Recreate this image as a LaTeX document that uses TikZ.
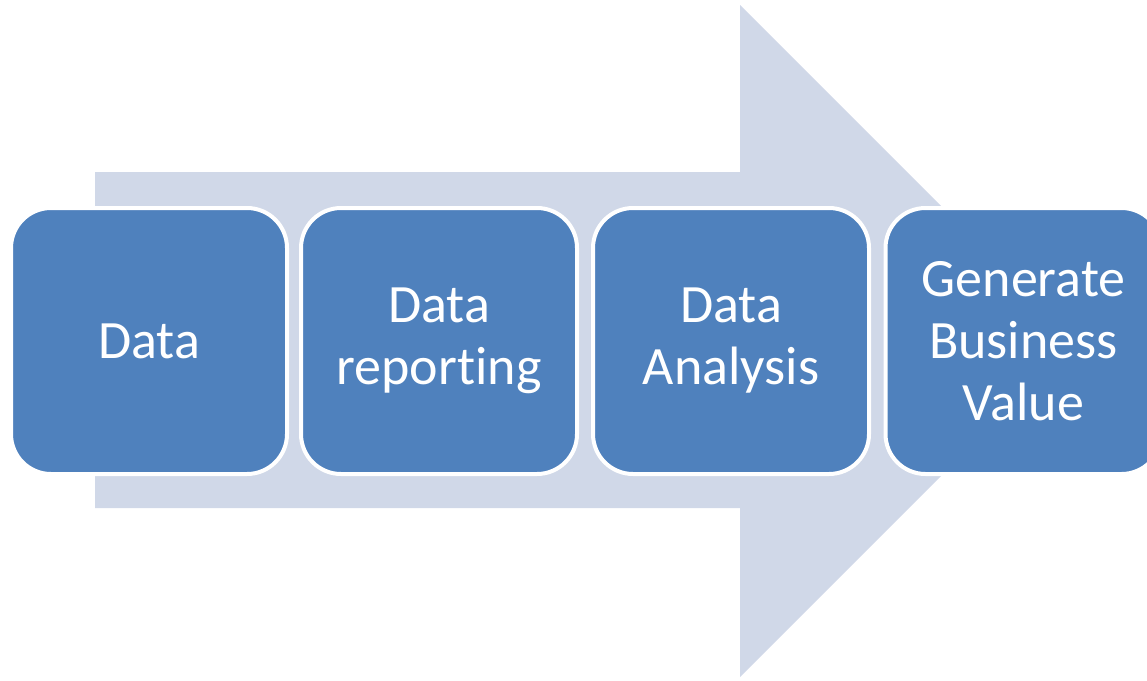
\documentclass[tikz,border=0pt]{standalone}
\usepackage{fontspec}
\setmainfont{Carlito}[Ligatures=NoCommon]
\definecolor{boxblue}{HTML}{4F81BD}
\definecolor{arrowgray}{HTML}{D0D8E8}
\begin{document}
\begin{tikzpicture}[x=1pt,y=-1pt,
  stagebox/.style={draw=white, line width=4pt, fill=boxblue, rounded corners=40pt,
    minimum width=276pt, minimum height=266pt, inner sep=0pt, align=center,
    text=white, font=\fontsize{54}{62}\selectfont}]
\useasboundingbox (0,0) rectangle (1147,680);
\fill[arrowgray] (95,172) -- (740,172) -- (740,5) -- (1076,341) -- (740,677) -- (740,508) -- (95,508) -- cycle;
\node[stagebox] (b1) at (149,341) {Data};
\node[stagebox] (b2) at (439,341) {Data\\report\kern0pt ing};
\node[stagebox] (b3) at (731,341) {Data\\Analysis};
\node[stagebox] (b4) at (1023.5,341) {Generate\\Business\\Value};
\end{tikzpicture}
\end{document}
